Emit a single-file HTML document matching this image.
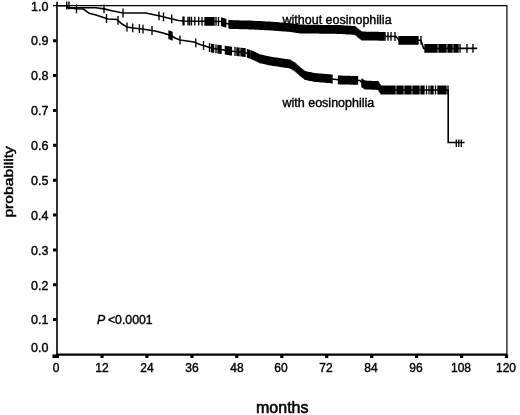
<!DOCTYPE html>
<html><head><meta charset="utf-8"><title>Survival probability</title>
<style>
html,body{margin:0;padding:0;background:#fff}
body{width:520px;height:415px;position:relative;overflow:hidden;font-family:"Liberation Sans",Arial,sans-serif;color:#000;-webkit-text-stroke:0.4px #000}
.yl{position:absolute;left:20px;width:28.5px;text-align:right;font-size:12.5px;line-height:15px;height:15px}
.xl{position:absolute;top:360.7px;transform:scaleX(0.96);width:40px;text-align:center;font-size:12.5px;line-height:15px;height:15px}
.t{position:absolute;white-space:nowrap;font-size:12.5px;line-height:15px}
</style></head><body>
<svg width="520" height="415" viewBox="0 0 520 415" style="position:absolute;left:0;top:0"><path d="M53,5.6H506.9V354.5" fill="none" stroke="#000" stroke-width="1.2"/><path d="M57,1.7V355.4" fill="none" stroke="#000" stroke-width="1.6"/><path d="M56,354.6H507.5" fill="none" stroke="#000" stroke-width="2.1"/><path d="M53,319.6h3.4M53,284.8h3.4M53,249.9h3.4M53,215.0h3.4M53,180.2h3.4M53,145.3h3.4M53,110.4h3.4M53,75.5h3.4M53,40.7h3.4" stroke="#000" stroke-width="3" fill="none"/><path d="M57.0,355v3M102.0,355v3M146.9,355v3M191.9,355v3M236.8,355v3M281.8,355v3M326.7,355v3M371.7,355v3M416.6,355v3M461.6,355v3M506.5,355v3" stroke="#000" stroke-width="3.2" fill="none"/><path d="M52.5,356.2h6.5" stroke="#000" stroke-width="3.6"/><path d="M57.0,5.8 L67.0,5.8 L68.0,7.6 L96.0,7.7 L104.0,8.9 L113.0,11.0 L123.0,13.0 L146.0,13.0 L148.0,13.5 L160.0,16.0 L170.0,18.5 L178.5,20.5 L183.0,21.0 L221.0,21.5 L225.0,23.0 L230.0,24.5 L250.0,25.0 L270.0,26.0 L290.0,27.5 L300.0,29.0 L340.0,29.5 L355.0,30.5 L358.0,33.0 L362.0,36.0 L396.0,36.5 L399.0,40.3 L421.0,40.3 L423.6,48.4 L477.2,48.4" fill="none" stroke="#000" stroke-width="1.6"/><path d="M67.0,7.6 L76.5,8.8 L83.4,9.0 L89.2,13.3 L96.0,15.0 L106.5,18.5 L108.0,19.0 L117.0,19.5 L122.0,24.0 L127.0,27.0 L133.0,28.0 L142.0,29.0 L152.0,30.5 L155.0,31.0 L163.0,33.0 L171.0,35.5 L175.0,38.0 L180.0,40.0 L187.0,41.0 L194.0,42.0 L200.0,44.5 L205.0,46.0 L211.0,48.0 L217.0,49.0 L224.0,50.0 L230.0,51.0 L245.0,52.5 L252.0,55.0 L260.0,58.8 L270.0,61.0 L280.0,62.5 L290.0,64.0 L295.0,67.0 L300.0,71.5 L305.0,75.5 L315.0,77.5 L330.0,78.8 L340.0,80.0 L360.0,80.5 L362.0,83.0 L365.0,85.0 L378.0,85.5 L381.0,90.0 L448.2,90.0 L448.2,142.5 L464.5,142.5" fill="none" stroke="#000" stroke-width="1.6"/><path d="M104.0,4.5v8.8M123.0,8.6v8.8M159.0,11.4v8.8M163.5,12.5v8.8M171.7,14.5v8.8M183.0,16.6v8.8M184.0,16.6v8.8M188.0,16.7v8.8M189.6,16.7v8.8M191.5,16.7v8.8M194.8,16.8v8.8M198.7,16.8v8.8M202.0,16.9v8.8M205.0,16.9v8.8M206.0,16.9v8.8M207.0,16.9v8.8M208.0,16.9v8.8M209.0,16.9v8.8M210.0,17.0v8.8M211.0,17.0v8.8M212.0,17.0v8.8M213.0,17.0v8.8M214.0,17.0v8.8M216.0,17.0v8.8M218.5,17.1v8.8M221.7,17.4v8.8M222.7,17.7v8.8M223.7,18.1v8.8M224.7,18.5v8.8M225.7,18.8v8.8M229.0,19.8v8.8M230.0,20.1v8.8M231.0,20.1v8.8M232.0,20.1v8.8M233.0,20.2v8.8M234.0,20.2v8.8M235.0,20.2v8.8M236.0,20.2v8.8M237.0,20.3v8.8M238.0,20.3v8.8M239.0,20.3v8.8M240.0,20.4v8.8M241.0,20.4v8.8M242.0,20.4v8.8M243.0,20.4v8.8M244.0,20.5v8.8M245.0,20.5v8.8M246.0,20.5v8.8M247.0,20.5v8.8M248.0,20.5v8.8M249.0,20.6v8.8M250.0,20.6v8.8M251.0,20.6v8.8M252.0,20.7v8.8M253.0,20.8v8.8M254.0,20.8v8.8M255.0,20.9v8.8M256.0,20.9v8.8M257.0,21.0v8.8M258.0,21.0v8.8M259.0,21.0v8.8M260.0,21.1v8.8M261.0,21.1v8.8M262.0,21.2v8.8M263.0,21.2v8.8M264.0,21.3v8.8M265.0,21.4v8.8M266.0,21.4v8.8M267.0,21.5v8.8M268.0,21.5v8.8M269.0,21.5v8.8M270.0,21.6v8.8M271.0,21.7v8.8M272.0,21.8v8.8M273.0,21.8v8.8M274.0,21.9v8.8M275.0,22.0v8.8M276.0,22.0v8.8M277.0,22.1v8.8M278.0,22.2v8.8M279.0,22.3v8.8M280.0,22.4v8.8M281.0,22.4v8.8M282.0,22.5v8.8M283.0,22.6v8.8M284.0,22.6v8.8M285.0,22.7v8.8M286.0,22.8v8.8M287.0,22.9v8.8M288.0,23.0v8.8M289.0,23.0v8.8M290.0,23.1v8.8M291.0,23.2v8.8M292.0,23.4v8.8M293.0,23.5v8.8M294.0,23.7v8.8M295.0,23.9v8.8M296.0,24.0v8.8M297.0,24.1v8.8M298.0,24.3v8.8M299.0,24.5v8.8M300.0,24.6v8.8M301.0,24.6v8.8M302.0,24.6v8.8M303.0,24.6v8.8M304.0,24.6v8.8M305.0,24.7v8.8M306.0,24.7v8.8M307.0,24.7v8.8M308.0,24.7v8.8M309.0,24.7v8.8M310.0,24.7v8.8M311.0,24.7v8.8M312.0,24.8v8.8M313.0,24.8v8.8M314.0,24.8v8.8M315.0,24.8v8.8M316.0,24.8v8.8M317.0,24.8v8.8M318.0,24.8v8.8M319.0,24.8v8.8M320.0,24.9v8.8M321.0,24.9v8.8M322.0,24.9v8.8M323.0,24.9v8.8M324.0,24.9v8.8M325.0,24.9v8.8M326.0,24.9v8.8M327.0,24.9v8.8M328.0,25.0v8.8M329.0,25.0v8.8M330.0,25.0v8.8M331.0,25.0v8.8M332.0,25.0v8.8M333.0,25.0v8.8M334.0,25.0v8.8M335.0,25.0v8.8M336.0,25.0v8.8M337.0,25.1v8.8M338.0,25.1v8.8M339.0,25.1v8.8M340.0,25.1v8.8M341.0,25.2v8.8M342.0,25.2v8.8M343.0,25.3v8.8M344.0,25.4v8.8M345.0,25.4v8.8M346.0,25.5v8.8M347.0,25.6v8.8M348.0,25.6v8.8M349.0,25.7v8.8M350.0,25.8v8.8M351.0,25.8v8.8M352.0,25.9v8.8M353.0,26.0v8.8M354.0,26.0v8.8M355.0,26.1v8.8M356.0,26.9v8.8M357.0,27.8v8.8M358.0,28.6v8.8M359.0,29.4v8.8M360.0,30.1v8.8M361.0,30.9v8.8M362.0,31.6v8.8M363.0,31.6v8.8M364.0,31.6v8.8M365.0,31.6v8.8M366.0,31.7v8.8M367.0,31.7v8.8M368.0,31.7v8.8M369.0,31.7v8.8M370.0,31.7v8.8M371.0,31.7v8.8M372.0,31.7v8.8M373.0,31.8v8.8M374.0,31.8v8.8M375.0,31.8v8.8M376.0,31.8v8.8M377.0,31.8v8.8M378.0,31.8v8.8M379.0,31.9v8.8M380.0,31.9v8.8M381.0,31.9v8.8M382.0,31.9v8.8M383.0,31.9v8.8M384.0,31.9v8.8M385.0,31.9v8.8M388.0,32.0v8.8M391.0,32.0v8.8M395.0,32.1v8.8M399.0,35.9v8.8M400.0,35.9v8.8M401.0,35.9v8.8M402.0,35.9v8.8M403.0,35.9v8.8M404.0,35.9v8.8M405.0,35.9v8.8M406.0,35.9v8.8M407.0,35.9v8.8M408.0,35.9v8.8M409.0,35.9v8.8M410.0,35.9v8.8M411.0,35.9v8.8M412.0,35.9v8.8M413.0,35.9v8.8M414.0,35.9v8.8M415.0,35.9v8.8M416.0,35.9v8.8M417.0,35.9v8.8M418.0,35.9v8.8M421.0,35.9v8.8M425.0,44.0v8.8M426.0,44.0v8.8M427.0,44.0v8.8M428.0,44.0v8.8M429.0,44.0v8.8M430.0,44.0v8.8M431.0,44.0v8.8M432.0,44.0v8.8M433.0,44.0v8.8M434.0,44.0v8.8M435.0,44.0v8.8M436.0,44.0v8.8M437.0,44.0v8.8M439.0,44.0v8.8M440.0,44.0v8.8M441.0,44.0v8.8M442.0,44.0v8.8M443.0,44.0v8.8M444.0,44.0v8.8M445.0,44.0v8.8M446.0,44.0v8.8M448.0,44.0v8.8M449.0,44.0v8.8M450.0,44.0v8.8M451.0,44.0v8.8M452.0,44.0v8.8M454.0,44.0v8.8M455.0,44.0v8.8M456.0,44.0v8.8M457.0,44.0v8.8M458.0,44.0v8.8M460.0,44.0v8.8M467.0,44.0v8.8M473.0,44.0v8.8" fill="none" stroke="#000" stroke-width="1.35"/><path d="M76.5,4.4v8.8M106.5,14.1v8.8M118.0,16.0v8.8M127.0,22.6v8.8M132.7,23.5v8.8M139.4,24.3v8.8M143.0,24.8v8.8M152.0,26.1v8.8M169.0,30.5v8.8M170.0,30.8v8.8M171.0,31.1v8.8M172.0,31.7v8.8M180.0,35.6v8.8M195.8,38.4v8.8M203.5,41.1v8.8M209.5,43.1v8.8M211.6,43.7v8.8M212.6,43.9v8.8M213.6,44.0v8.8M216.0,44.4v8.8M218.0,44.7v8.8M219.0,44.9v8.8M220.0,45.0v8.8M221.0,45.2v8.8M225.4,45.8v8.8M226.4,46.0v8.8M227.4,46.2v8.8M228.4,46.3v8.8M229.4,46.5v8.8M230.4,46.6v8.8M231.4,46.7v8.8M235.0,47.1v8.8M237.0,47.3v8.8M238.0,47.4v8.8M239.0,47.5v8.8M241.0,47.7v8.8M242.0,47.8v8.8M243.0,47.9v8.8M244.0,48.0v8.8M245.0,48.1v8.8M247.5,49.0v8.8M248.5,49.4v8.8M249.5,49.7v8.8M251.0,50.2v8.8M252.0,50.6v8.8M253.0,51.1v8.8M254.0,51.5v8.8M255.0,52.0v8.8M256.0,52.5v8.8M257.0,52.9v8.8M258.0,53.4v8.8M259.0,53.9v8.8M260.0,54.4v8.8M261.0,54.6v8.8M262.0,54.8v8.8M263.0,55.0v8.8M264.0,55.2v8.8M265.0,55.5v8.8M266.0,55.7v8.8M267.0,55.9v8.8M268.0,56.1v8.8M269.0,56.4v8.8M270.0,56.6v8.8M271.0,56.8v8.8M272.0,56.9v8.8M273.0,57.1v8.8M274.0,57.2v8.8M275.0,57.4v8.8M276.0,57.5v8.8M277.0,57.6v8.8M278.0,57.8v8.8M279.0,58.0v8.8M280.0,58.1v8.8M281.0,58.2v8.8M282.0,58.4v8.8M283.0,58.6v8.8M284.0,58.7v8.8M285.0,58.9v8.8M286.0,59.0v8.8M287.0,59.1v8.8M288.0,59.3v8.8M289.0,59.5v8.8M290.0,59.6v8.8M291.0,60.2v8.8M292.0,60.8v8.8M293.0,61.4v8.8M294.0,62.0v8.8M295.0,62.6v8.8M296.0,63.5v8.8M297.0,64.4v8.8M298.0,65.3v8.8M299.0,66.2v8.8M300.0,67.1v8.8M301.0,67.9v8.8M302.0,68.7v8.8M303.0,69.5v8.8M304.0,70.3v8.8M305.0,71.1v8.8M306.0,71.3v8.8M307.0,71.5v8.8M308.0,71.7v8.8M309.0,71.9v8.8M310.0,72.1v8.8M311.0,72.3v8.8M312.0,72.5v8.8M313.0,72.7v8.8M314.0,72.9v8.8M315.0,73.1v8.8M316.0,73.2v8.8M317.0,73.3v8.8M318.0,73.3v8.8M319.0,73.4v8.8M320.0,73.5v8.8M321.0,73.6v8.8M322.0,73.7v8.8M323.0,73.8v8.8M324.0,73.8v8.8M325.0,73.9v8.8M326.0,74.0v8.8M327.0,74.1v8.8M328.0,74.2v8.8M329.0,74.3v8.8M330.0,74.3v8.8M331.0,74.5v8.8M332.0,74.6v8.8M338.5,75.4v8.8M339.5,75.5v8.8M340.5,75.6v8.8M341.5,75.6v8.8M342.5,75.7v8.8M343.5,75.7v8.8M344.5,75.7v8.8M345.5,75.7v8.8M346.5,75.8v8.8M347.5,75.8v8.8M348.5,75.8v8.8M349.5,75.8v8.8M350.5,75.9v8.8M351.5,75.9v8.8M352.5,75.9v8.8M353.5,75.9v8.8M354.5,76.0v8.8M355.5,76.0v8.8M356.5,76.0v8.8M357.5,76.0v8.8M362.0,78.6v8.8M363.0,79.3v8.8M364.0,79.9v8.8M365.0,80.6v8.8M366.0,80.6v8.8M367.0,80.7v8.8M368.0,80.7v8.8M369.0,80.8v8.8M370.0,80.8v8.8M371.0,80.8v8.8M372.0,80.9v8.8M373.0,80.9v8.8M374.0,80.9v8.8M375.0,81.0v8.8M376.0,81.0v8.8M377.0,81.1v8.8M378.0,81.1v8.8M379.0,82.6v8.8M380.0,84.1v8.8M381.0,85.6v8.8M382.0,85.6v8.8M383.0,85.6v8.8M384.0,85.6v8.8M385.0,85.6v8.8M386.0,85.6v8.8M387.0,85.6v8.8M388.0,85.6v8.8M389.0,85.6v8.8M390.0,85.6v8.8M391.0,85.6v8.8M392.0,85.6v8.8M393.0,85.6v8.8M394.0,85.6v8.8M395.0,85.6v8.8M397.0,85.6v8.8M398.0,85.6v8.8M399.0,85.6v8.8M400.0,85.6v8.8M401.0,85.6v8.8M402.0,85.6v8.8M403.0,85.6v8.8M405.0,85.6v8.8M406.0,85.6v8.8M407.0,85.6v8.8M408.0,85.6v8.8M409.0,85.6v8.8M410.0,85.6v8.8M411.0,85.6v8.8M413.0,85.6v8.8M414.0,85.6v8.8M415.0,85.6v8.8M416.0,85.6v8.8M417.0,85.6v8.8M418.0,85.6v8.8M419.0,85.6v8.8M421.0,85.6v8.8M422.0,85.6v8.8M423.0,85.6v8.8M424.0,85.6v8.8M426.5,85.6v8.8M429.0,85.6v8.8M431.0,85.6v8.8M432.0,85.6v8.8M433.0,85.6v8.8M435.5,85.6v8.8M438.0,85.6v8.8M439.0,85.6v8.8M440.0,85.6v8.8M441.0,85.6v8.8M442.0,85.6v8.8M443.0,85.6v8.8M444.0,85.6v8.8M445.0,85.6v8.8M446.0,85.6v8.8M448.0,85.6v8.8" fill="none" stroke="#000" stroke-width="1.35"/><path d="M66.7,1.4V9.4M69,1.4V9.4" fill="none" stroke="#000" stroke-width="1.4"/><path d="M456.3,139.5v7.5M458.8,139.5v7.5M461.3,139.5v7.5" fill="none" stroke="#000" stroke-width="1.3"/></svg>
<div class="yl" style="top:341.2px">0.0</div><div class="yl" style="top:313.3px">0.1</div><div class="yl" style="top:278.5px">0.2</div><div class="yl" style="top:243.6px">0.3</div><div class="yl" style="top:208.7px">0.4</div><div class="yl" style="top:173.8px">0.5</div><div class="yl" style="top:139.0px">0.6</div><div class="yl" style="top:104.1px">0.7</div><div class="yl" style="top:69.2px">0.8</div><div class="yl" style="top:34.4px">0.9</div><div class="yl" style="top:-0.5px">1.0</div><div class="xl" style="left:36.0px">0</div><div class="xl" style="left:81.7px">12</div><div class="xl" style="left:126.6px">24</div><div class="xl" style="left:171.6px">36</div><div class="xl" style="left:216.5px">48</div><div class="xl" style="left:261.4px">60</div><div class="xl" style="left:306.4px">72</div><div class="xl" style="left:351.4px">84</div><div class="xl" style="left:396.3px">96</div><div class="xl" style="left:441.2px">108</div><div class="xl" style="left:486.2px">120</div>
<div class="t" style="left:282.5px;top:13px">without eosinophilia</div>
<div class="t" style="left:282.5px;top:95.5px">with eosinophilia</div>
<div class="t" style="left:97px;top:313.4px;font-size:12.3px"><i>P</i><span style="margin-left:2.7px">&lt;0.0001</span></div>
<div class="t" id="months" style="left:256px;top:397.5px;font-size:16px;-webkit-text-stroke:0.55px #000;line-height:20px">months</div>
<div class="t" id="prob" style="left:0;top:0;font-size:15px;-webkit-text-stroke:0.5px #000;line-height:18px;transform-origin:0 0;transform:translate(0.3px,217.6px) rotate(-90deg) scale(1.045,0.9)">probability</div>
</body></html>
